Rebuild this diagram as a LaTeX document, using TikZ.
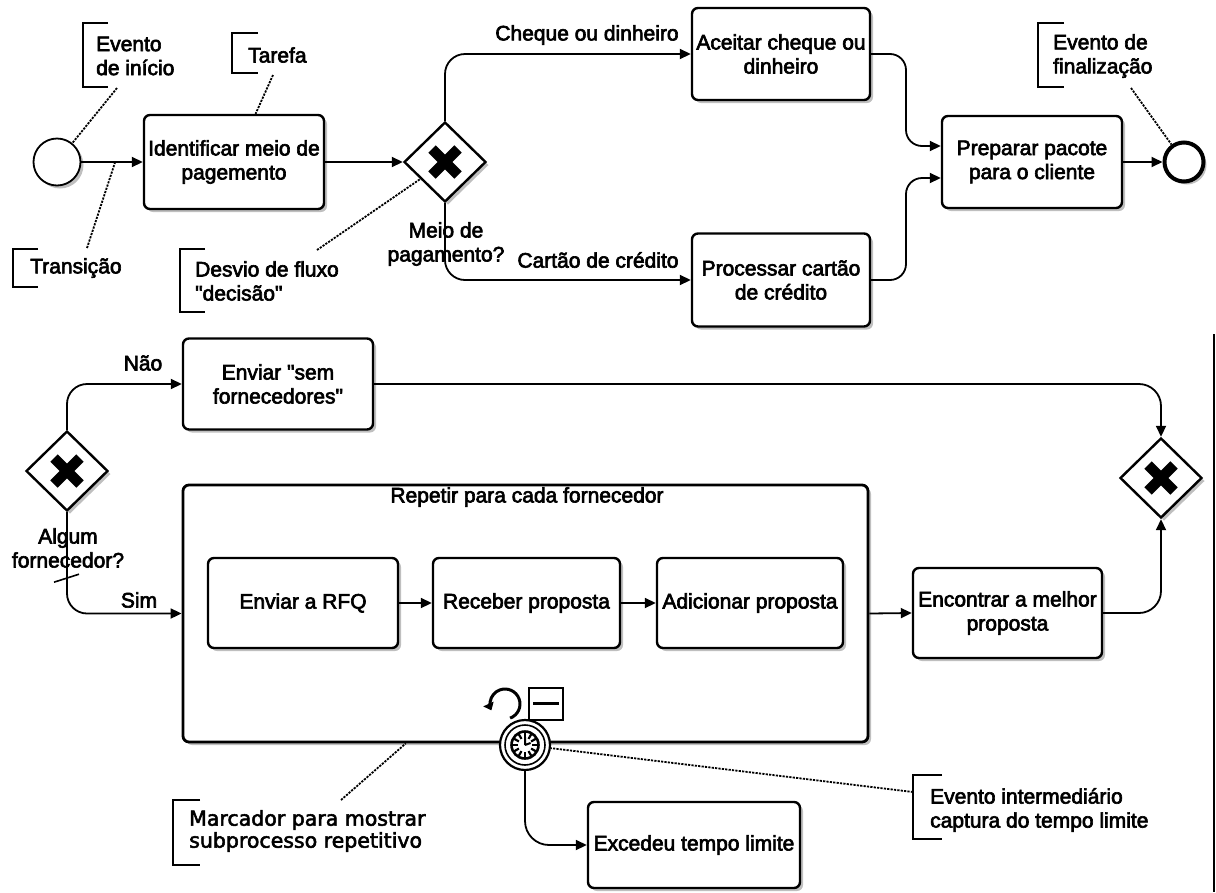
\documentclass[tikz,border=0pt]{standalone}
\usepackage{fontspec}
\setmainfont{Liberation Sans}[FakeBold=3,Ligatures=TeXOff]
\newfontfamily\wideface{DejaVu Sans}[FakeBold=2.5]
\usetikzlibrary{arrows.meta,shapes.geometric,shadows,calc}

\begin{document}
\begin{tikzpicture}[x=1pt,y=-1pt,
  every node/.style={font=\fontsize{21}{24}\selectfont},
  shade/.style={drop shadow={shadow xshift=3pt,shadow yshift=-3pt,fill=black!50}},
  task/.style={draw,line width=2.4pt,rounded corners=6pt,fill=white,shade,align=center,inner sep=2pt},
  gate/.style={diamond,draw,line width=2.4pt,fill=white,shade,minimum width=82pt,minimum height=80pt,inner sep=0pt,
    path picture={\draw[line width=10.5pt]
      ([shift={(-13pt,-13pt)}]path picture bounding box.center) -- ([shift={(13pt,13pt)}]path picture bounding box.center)
      ([shift={(-13pt,13pt)}]path picture bounding box.center) -- ([shift={(13pt,-13pt)}]path picture bounding box.center);}},
  flow/.style={line width=1.8pt,-{Triangle[length=11pt,width=10pt]},rounded corners=16pt},
  assoc/.style={line width=1.8pt,dash pattern=on 2.2pt off 1.2pt},
  brk/.style={line width=1.8pt},
  lbl/.style={align=center,inner sep=0pt},
  note/.style={align=left,anchor=west,inner sep=0pt}
]
\useasboundingbox (0,0) rectangle (1216,892);

% ---------- payment process ----------
\node[circle,draw,line width=1.8pt,minimum size=47pt,inner sep=0pt,fill=white,shade] (se) at (57,162) {};
\node[task,minimum width=180pt,minimum height=94pt] (t1) at (234,162) {Identificar meio de\\pagemento};
\node[gate] (g1) at (445,162) {};
\node[task,minimum width=178pt,minimum height=92pt] (t2) at (781,54) {Aceitar cheque ou\\dinheiro};
\node[task,minimum width=178pt,minimum height=93pt] (t3) at (781,280) {Processar cartão\\de crédito};
\node[task,minimum width=180pt,minimum height=92pt] (t4) at (1032,162) {Preparar pacote\\para o cliente};
\node[circle,draw,line width=4pt,minimum size=39pt,inner sep=0pt,fill=white,shade] (ee) at (1184,162) {};

\draw[flow] (se) -- (t1);
\draw[flow] (t1) -- (g1);
\draw[flow,rounded corners=20pt] (g1.north) |- (t2.west);
\draw[flow,rounded corners=20pt] (g1.south) |- (t3.west);
\draw[flow] (t2.east) -| ($(t2.east)!.5!(t4.west)$) |- ([yshift=16pt]t4.west);
\draw[flow] (t3.east) -| ($(t3.east)!.5!(t4.west)$) |- ([yshift=-16pt]t4.west);
\draw[flow] (t4) -- (ee);

\node[lbl] (l1) at (587,35) {Cheque ou dinheiro};
\node[lbl] (l2) at (446,244) {Meio de\\pagamento?};
\node[lbl] (l3) at (598,260) {Cartão de crédito};

% annotations
\draw[brk] (108,23) -| (83,87) -- (108,87);
\node[note] (n1) at (96,56) {Evento\\de início};
\coordinate (n1p) at (117,88);
\draw[assoc] (n1p) -- (se);

\draw[brk] (258,33) -| (232,73) -- (258,73);
\node[note] (n2) at (248,55) {Tarefa};
\coordinate (n2p) at (273,75);
\draw[assoc] (n2p) -- (t1);

\draw[brk] (38,249) -| (13,287) -- (38,287);
\node[note] (n3) at (30,268) {Transição};
\coordinate (n3p) at (87,248);
\coordinate (n3q) at ($(se.east)!.55!(t1.west)$);
\draw[assoc] (n3p) -- (n3q);

\draw[brk] (205,249) -| (180,312) -- (205,312);
\node[note] (n4) at (195,281) {Desvio de fluxo\\"decisão"};
\coordinate (n4p) at (317,250);
\draw[assoc] (n4p) -- (g1);

\draw[brk] (1064,23) -| (1038,87) -- (1064,87);
\node[note] (n5) at (1053,56) {Evento de\\finalização};
\coordinate (n5p) at (1131,88);
\draw[assoc] (n5p) -- (ee);

% ---------- supplier process ----------
\draw[line width=1.5pt] (1214,334) -- (1214,892);

\node[gate] (g2) at (67,471) {};
\node[task,minimum width=190pt,minimum height=91pt] (t5) at (278,384) {Enviar "sem\\fornecedores"};
\node[gate] (g3) at (1161,478) {};
\node[draw,line width=2.8pt,rounded corners=6pt,fill=white,shade,minimum width=685pt,minimum height=257pt] (sp) at (525.5,613.5) {};
\node[lbl] (spt) at (527,497) {Repetir para cada fornecedor};
\node[task,minimum width=190pt,minimum height=90pt] (r1) at (303,603) {Enviar a RFQ};
\node[task,minimum width=187pt,minimum height=90pt] (r2) at (526.5,603) {Receber proposta};
\node[task,minimum width=186pt,minimum height=90pt] (r3) at (750,603) {Adicionar proposta};
\node[task,minimum width=189pt,minimum height=90pt] (t6) at (1007.5,613) {Encontrar a melhor\\proposta};
\node[task,minimum width=212pt,minimum height=86pt] (t7) at (694,845) {Excedeu tempo limite};

% timer boundary event
\node[circle,draw,line width=2.2pt,minimum size=50pt,inner sep=0pt,fill=white] (tm) at (525,745) {};
\draw[line width=1.6pt] (tm.center) circle[radius=20pt];
\draw[line width=2.6pt] (tm.center) circle[radius=13.5pt];
\foreach \a in {0,30,...,330}
  \draw[line width=2.2pt] ([shift={(\a:7pt)}]tm.center) -- ([shift={(\a:13.5pt)}]tm.center);
\draw[line width=2pt] (tm.center) -- ([shift={(90:8pt)}]tm.center)
  (tm.center) -- ([shift={(20:6pt)}]tm.center);

% loop and collapse markers
\coordinate (loopc) at (505,704);
\begin{scope}[shift={(loopc)},yscale=-1]
  \draw[line width=3pt,-{Triangle[length=7pt,width=11pt]}] (-70:15) arc[start angle=-70,end angle=205,radius=15];
\end{scope}
\coordinate (colnw) at (529,688);
\coordinate (colse) at (563,720);
\draw[line width=1.8pt] (colnw) rectangle (colse);
\draw[line width=3pt] ([shift={(4pt,-15pt)}]colnw) -- ([shift={(30pt,-15pt)}]colnw);

\draw[flow,rounded corners=20pt] (g2.north) |- (t5.west);
\draw[flow,rounded corners=20pt] (g2.south) |- (sp.west);
\draw[line width=1.6pt] ([shift={(-13pt,-70pt)}]g2.south) -- ([shift={(12pt,-62pt)}]g2.south);
\draw[flow,rounded corners=22pt] (t5.east) -| (g3.north);
\draw[flow] (r1) -- (r2);
\draw[flow] (r2) -- (r3);
\draw[flow] (sp.east) -- (t6.west);
\draw[flow,rounded corners=22pt] (t6.east) -| (g3.south);
\draw[flow,rounded corners=24pt] (tm.south) |- (t7.west);

\node[lbl] (l4) at (143,363) {Não};
\node[lbl] (l5) at (139,600) {Sim};
\node[lbl] (l6) at (68,548) {Algum\\fornecedor?};

% annotations
\draw[brk] (200,800) -| (173,865) -- (200,865);
\node[note,font=\wideface\fontsize{20.5}{22}\selectfont] (n6) at (189,831) {Marcador para mostrar\\subprocesso repetitivo};
\coordinate (n6p) at (341,800);
\coordinate (n6q) at ($(sp.south west)!.326!(sp.south east)$);
\draw[assoc] (n6p) -- (n6q);

\draw[brk] (942,775) -| (913,839) -- (942,839);
\node[note] (n7) at (930,810) {Evento intermediário\\captura do tempo limite};
\coordinate (n7p) at (913,792);
\draw[assoc] (n7p) -- (tm);
\end{tikzpicture}
\end{document}
